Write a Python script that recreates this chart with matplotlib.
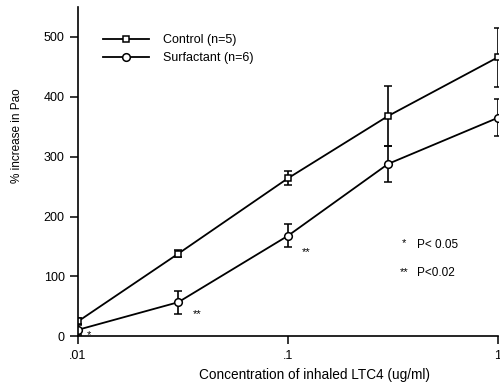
import matplotlib
matplotlib.use("Agg")
import matplotlib.pyplot as plt
from matplotlib.lines import Line2D

plt.rcParams['font.family'] = ['Liberation Sans', 'DejaVu Sans']

# Data
conc = [0.01, 0.03, 0.1, 0.3, 1.0]
control = [25, 138, 264, 368, 466]
control_err = [5, 6, 12, 50, 49]
surf = [11, 57, 168, 288, 365]
surf_err = [8, 19, 19, 30, 31]

fig = plt.figure(figsize=(5, 3.84), dpi=100)
ax = fig.add_axes([0.156, 0.124, 0.84, 0.858])

ax.errorbar(conc, control, yerr=control_err, color='black', lw=1.3,
            marker='s', ms=5, mfc='white', mec='black', mew=1.1,
            capsize=3, elinewidth=1.2)
ax.errorbar(conc, surf, yerr=surf_err, color='black', lw=1.3,
            marker='o', ms=5.5, mfc='white', mec='black', mew=1.1,
            capsize=3, elinewidth=1.2)

# significance marks
ax.text(0.0113, 2, '*', fontsize=8, ha='center', va='center')
ax.text(0.037, 38, '**', fontsize=8, ha='center', va='center')
ax.text(0.122, 140, '**', fontsize=8, ha='center', va='center')
ax.text(0.356, 155, '*', fontsize=8, ha='center', va='center')
ax.text(0.411, 153, 'P< 0.05', fontsize=8.5, ha='left', va='center')
ax.text(0.356, 108, '**', fontsize=8, ha='center', va='center')
ax.text(0.411, 106, 'P<0.02', fontsize=8.5, ha='left', va='center')

ax.set_xscale('log')
ax.set_xlim(0.01, 1.0)
ax.set_ylim(0, 550)
ax.set_xticks([0.01, 0.1, 1])
ax.set_xticklabels(['.01', '.1', '1'])
ax.minorticks_off()
ax.set_yticks([0, 100, 200, 300, 400, 500])
ax.tick_params(labelsize=9, length=6, width=1.1)
ax.spines['top'].set_visible(False)
ax.spines['right'].set_visible(False)
ax.spines['left'].set_linewidth(1.2)
ax.spines['bottom'].set_linewidth(1.2)

ax.set_xlabel('Concentration of inhaled LTC4 (ug/ml)', fontsize=9.8)
ax.xaxis.set_label_coords(0.564, -0.095)
ax.set_ylabel('% increase in Pao', fontsize=8.5)
ax.yaxis.set_label_coords(-0.13, 0.608)

handles = [
    Line2D([], [], color='black', lw=1.3, marker='s', ms=5, mfc='white', mew=1.1),
    Line2D([], [], color='black', lw=1.3, marker='o', ms=5.5, mfc='white', mew=1.1),
]
ax.legend(handles, ['Control (n=5)', 'Surfactant (n=6)'], loc='upper left',
          bbox_to_anchor=(0.047, 0.933), frameon=False, fontsize=9,
          handlelength=3.7, handletextpad=1.1, labelspacing=0.5,
          borderaxespad=0)

fig.savefig('out.png', dpi=100)
